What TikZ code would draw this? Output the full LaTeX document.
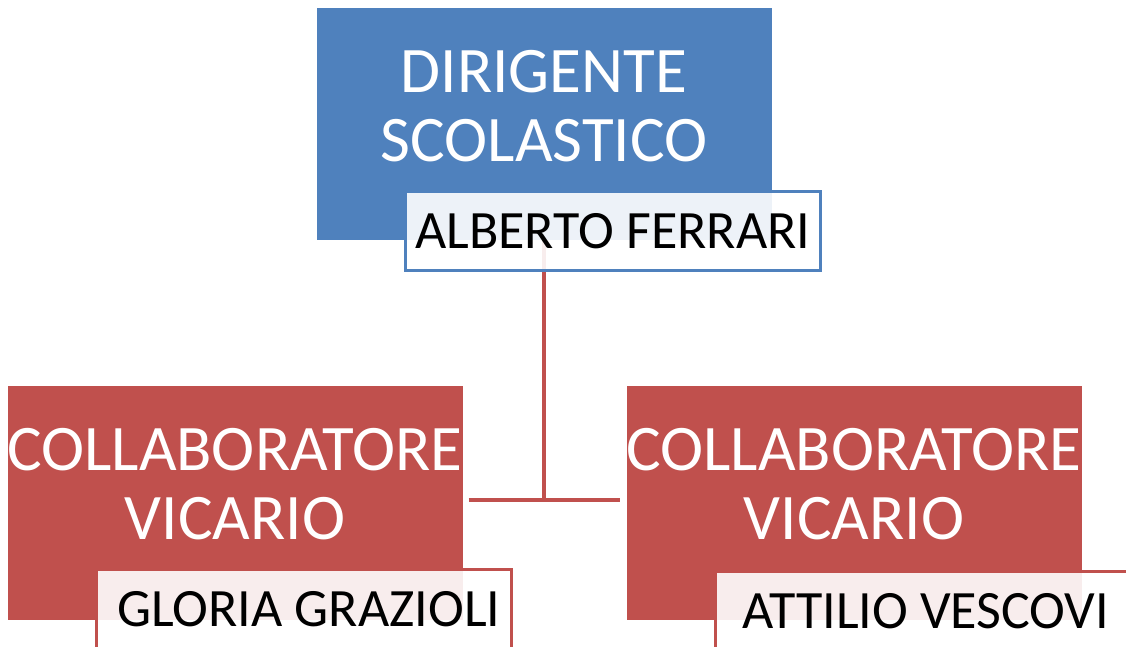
\documentclass[tikz,border=0pt]{standalone}
\usepackage{fontspec}
\setmainfont{Carlito}
\usepackage{tikz}
\usetikzlibrary{positioning}
\usetikzlibrary{calc}

\definecolor{roleBlue}{RGB}{79,129,189}
\definecolor{roleRed}{RGB}{192,80,77}

\begin{document}
\begin{tikzpicture}[
	x=1pt, y=-1pt,
	roleBox/.style={inner sep=0pt, minimum width=455pt, minimum height=234pt},
	roleText/.style={text=white, align=center, inner sep=0pt,
		font=\fontsize{65}{69}\selectfont},
	nameBox/.style={line width=3pt, fill=white, fill opacity=0.9, text opacity=1,
		inner sep=0pt, minimum width=415pt, minimum height=79pt, anchor=north east,
		font=\fontsize{54}{58}\selectfont},
	link/.style={draw=roleRed, line width=4pt}
]

\useasboundingbox (0,0) rectangle (1126,646);
\clip (0,0) rectangle (1126,646);

\node[
	roleBox,
	fill=roleBlue,
	minimum height=232pt
] (dirigente) at (544,124) {};

\node[
	roleBox,
	fill=roleRed
] (vicarioLeft) at (235,502.5) {};

\node[
	roleBox,
	fill=roleRed
] (vicarioRight) at (854,502.5) {};

\node[roleText] (dirigenteText) at ([yshift=18pt]dirigente.center) {DIRIGENTE\\SCOLASTICO};
\node[roleText] (vicarioLeftText) at ([yshift=18pt]vicarioLeft.center) {COLLABORATORE\\VICARIO};
\node[roleText] (vicarioRightText) at ([yshift=18pt]vicarioRight.center) {COLLABORATORE\\VICARIO};

% ---

\coordinate (junction) at ([yshift=2.5pt]dirigente.south |- vicarioLeft.center);

\draw[link] (dirigente.south) -- (junction);
\draw[link] ([xshift=6pt]vicarioLeft.east |- junction) -- ([xshift=-6pt]vicarioRight.west |- junction);

% ---

\node[
	nameBox,
	draw=roleBlue
] (ferrari) at ([shift={(50pt,50pt)}]dirigente.south east) {ALBERTO FERRARI};

\node[
	nameBox,
	draw=roleRed
] (grazioli) at ([shift={(50pt,52pt)}]vicarioLeft.south east) {\hspace{10pt}GLORIA GRAZIOLI};

\node[
	nameBox,
	draw=roleRed
] (vescovi) at ([shift={(50pt,50pt)}]vicarioRight.south east) {\hspace{6pt}ATTILIO VESCOVI};

\end{tikzpicture}
\end{document}
